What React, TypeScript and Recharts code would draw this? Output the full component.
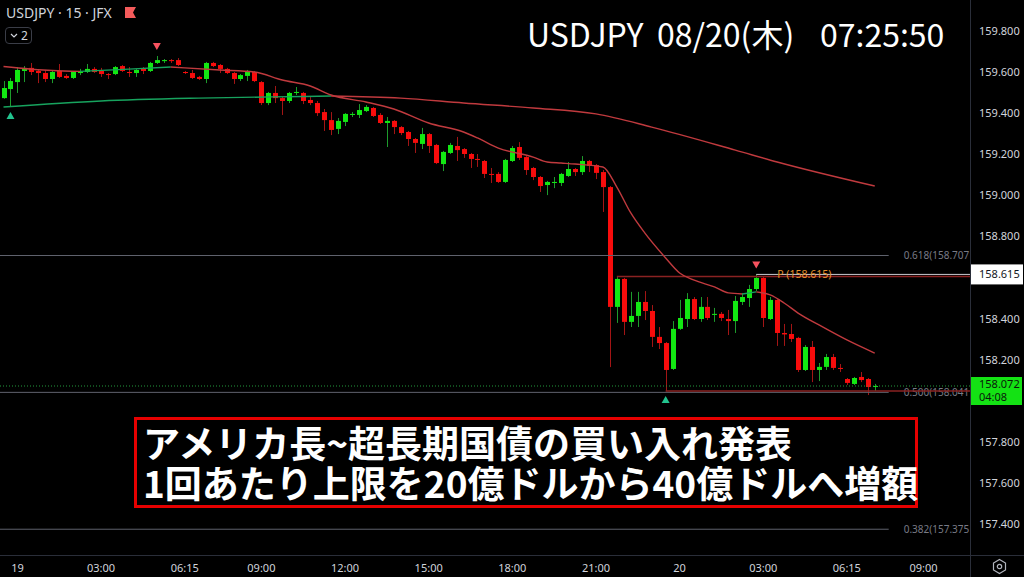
import React from 'react';
import { ComposedChart, Bar, Line, XAxis, YAxis, ReferenceLine, ReferenceDot } from 'recharts';

// 15-minute candles, USDJPY, index 0 = 18th 23:30 (06:00 bar missing: daily break)
const openP = [
  159.473, 159.517, 159.551, 159.605, 159.62, 159.605, 159.595, 159.566, 159.605, 159.581,
  159.571, 159.595, 159.6, 159.615, 159.605, 159.59, 159.59, 159.629, 159.6, 159.595,
  159.615, 159.605, 159.644, 159.653, 159.658, 159.658, 159.6, 159.595, 159.576, 159.566,
  159.644, 159.634, 159.615, 159.595, 159.566, 159.581, 159.6, 159.551, 159.449, 159.498,
  159.473, 159.459, 159.498, 159.498, 159.464, 159.449, 159.405, 159.366, 159.323, 159.357,
  159.391, 159.391, 159.41, 159.425, 159.391, 159.352, 159.362, 159.332, 159.308, 159.274,
  159.25, 159.298, 159.245, 159.152, 159.206, 159.24, 159.225, 159.201, 159.177, 159.167,
  159.104, 159.104, 159.065, 159.167, 159.235, 159.186, 159.133, 159.089, 159.05, 159.06,
  159.06, 159.094, 159.128, 159.113, 159.167, 159.147, 159.113, 159.04, 158.457, 158.593,
  158.384, 158.413, 158.481, 158.437, 158.311, 158.281, 158.155, 158.35, 158.398, 158.495,
  158.398, 158.457, 158.418, 158.423, 158.398, 158.388, 158.481, 158.5, 158.544, 158.598,
  158.398, 158.491, 158.33, 158.325, 158.306, 158.15, 158.262, 158.15, 158.165, 158.213,
  158.16, 158.106, 158.082, 158.116, 158.106, 158.067,
];
const highP = [
  159.556, 159.571, 159.624, 159.629, 159.644, 159.61, 159.61, 159.605, 159.639, 159.59,
  159.605, 159.615, 159.639, 159.624, 159.62, 159.595, 159.629, 159.634, 159.624, 159.615,
  159.624, 159.649, 159.678, 159.663, 159.663, 159.668, 159.605, 159.61, 159.581, 159.649,
  159.649, 159.639, 159.62, 159.6, 159.59, 159.61, 159.605, 159.556, 159.503, 159.532,
  159.478, 159.503, 159.527, 159.503, 159.478, 159.459, 159.42, 159.405, 159.376, 159.4,
  159.405, 159.444, 159.439, 159.43, 159.4, 159.381, 159.366, 159.337, 159.313, 159.279,
  159.328, 159.303, 159.25, 159.216, 159.255, 159.284, 159.23, 159.206, 159.201, 159.172,
  159.133, 159.113, 159.177, 159.24, 159.259, 159.191, 159.138, 159.094, 159.07, 159.089,
  159.109, 159.162, 159.133, 159.191, 159.172, 159.152, 159.123, 159.045, 158.602, 158.598,
  158.53, 158.53, 158.534, 158.466, 158.359, 158.286, 158.388, 158.491, 158.524, 158.505,
  158.505, 158.505, 158.452, 158.432, 158.442, 158.51, 158.524, 158.564, 158.615, 158.602,
  158.505, 158.495, 158.374, 158.374, 158.311, 158.271, 158.291, 158.184, 158.228, 158.228,
  158.179, 158.111, 158.116, 158.14, 158.111, 158.082,
];
const lowP = [
  159.47, 159.43, 159.498, 159.551, 159.585, 159.546, 159.551, 159.546, 159.571, 159.566,
  159.566, 159.585, 159.595, 159.595, 159.576, 159.566, 159.585, 159.6, 159.576, 159.576,
  159.59, 159.6, 159.639, 159.644, 159.644, 159.629, 159.59, 159.566, 159.561, 159.546,
  159.624, 159.595, 159.59, 159.542, 159.556, 159.556, 159.551, 159.439, 159.439, 159.449,
  159.391, 159.449, 159.488, 159.444, 159.439, 159.386, 159.313, 159.293, 159.298, 159.337,
  159.381, 159.376, 159.405, 159.381, 159.347, 159.235, 159.298, 159.293, 159.24, 159.206,
  159.225, 159.206, 159.152, 159.118, 159.201, 159.167, 159.182, 159.133, 159.138, 159.084,
  159.06, 159.06, 159.06, 159.162, 159.172, 159.099, 159.074, 159.016, 159.001, 159.035,
  159.045, 159.089, 159.094, 159.099, 159.113, 159.079, 158.919, 158.164, 158.379, 158.32,
  158.359, 158.359, 158.393, 158.262, 158.252, 158.048, 158.15, 158.345, 158.359, 158.393,
  158.384, 158.393, 158.384, 158.388, 158.32, 158.33, 158.466, 158.457, 158.534, 158.359,
  158.393, 158.267, 158.267, 158.286, 158.14, 158.145, 158.091, 158.096, 158.15, 158.15,
  158.14, 158.077, 158.077, 158.091, 158.028, 158.048,
];
const closeP = [
  159.522, 159.556, 159.61, 159.615, 159.6, 159.595, 159.566, 159.6, 159.576, 159.571,
  159.6, 159.6, 159.615, 159.6, 159.59, 159.588, 159.624, 159.605, 159.595, 159.61,
  159.605, 159.644, 159.658, 159.658, 159.653, 159.634, 159.595, 159.571, 159.566, 159.644,
  159.629, 159.615, 159.595, 159.566, 159.585, 159.605, 159.556, 159.449, 159.498, 159.473,
  159.459, 159.498, 159.503, 159.459, 159.449, 159.4, 159.366, 159.318, 159.362, 159.396,
  159.396, 159.415, 159.43, 159.386, 159.352, 159.362, 159.332, 159.303, 159.274, 159.255,
  159.298, 159.24, 159.157, 159.211, 159.245, 159.22, 159.201, 159.177, 159.172, 159.104,
  159.102, 159.065, 159.172, 159.23, 159.182, 159.123, 159.089, 159.045, 159.065, 159.065,
  159.104, 159.128, 159.113, 159.167, 159.143, 159.109, 159.04, 158.457, 158.593, 158.384,
  158.413, 158.481, 158.437, 158.311, 158.281, 158.15, 158.35, 158.403, 158.495, 158.398,
  158.457, 158.403, 158.423, 158.403, 158.388, 158.486, 158.505, 158.544, 158.598, 158.403,
  158.491, 158.33, 158.323, 158.301, 158.15, 158.262, 158.15, 158.165, 158.213, 158.16,
  158.155, 158.087, 158.111, 158.101, 158.067, 158.072,
];

// moving averages, read at sample candles
const fastIdx = [0, 7, 11, 18, 24, 26, 31, 36, 40, 44, 47, 52, 56, 61, 66, 68, 71, 76, 78, 80, 82, 86, 88, 90, 92, 95, 97, 99, 102, 104, 106, 108, 110, 112, 114, 117, 121, 125];
const fastVal = [
  159.627, 159.607, 159.603, 159.614, 159.624, 159.62, 159.61, 159.6, 159.561, 159.532,
  159.488, 159.454, 159.42, 159.352, 159.308, 159.279, 159.23, 159.186, 159.162, 159.157,
  159.152, 159.138, 159.04, 158.914, 158.817, 158.695, 158.622, 158.588, 158.554, 158.525,
  158.52, 158.53, 158.515, 158.476, 158.427, 158.369, 158.296, 158.232,
];
const slowIdx = [0, 14, 28, 43, 47, 57, 66, 76, 85, 93, 105, 111, 125];
const slowVal = [159.43, 159.459, 159.473, 159.481, 159.483, 159.473, 159.449, 159.425, 159.396, 159.332, 159.22, 159.162, 159.045];

const timeTickIdx = [2, 14, 26, 37, 49, 61, 73, 85, 97, 109, 121, 132];
const timeTickLabels = ['19', '03:00', '06:15', '09:00', '12:00', '15:00', '18:00', '21:00', '20', '03:00', '06:15', '09:00'];
const priceTicks = [157.4, 157.6, 157.8, 158.0, 158.2, 158.4, 158.6, 158.8, 159.0, 159.2, 159.4, 159.6, 159.8].filter((p) => p !== 158.0 && p !== 158.6);

const fibLevels = ['0.618', '0.500', '0.382'];
const fibPrices = [158.707, 158.041, 157.375];
const fibEndIdx = 127;

const pivotIdx = 108;
const pivotPrice = 158.615;
const rayHighIdx = 88;
const rayHighPrice = 158.605;
const rayLowIdx = 95;
const lastPrice = 158.072;
const countdown = '04:08';
const highMarks = [22, 108];
const lowMarks = [1, 95];

const X_MIN = -0.502;
const X_MAX = 138.666;
const Y_MIN = 157.2496;
const Y_MAX = 159.9504;

const BODY_UP = '#12e812';
const BODY_DN = '#f80c0c';
const WICK_UP = '#1d9b2c';
const WICK_DN = '#a31515';
const MA_UP = '#17a35e';
const MA_DN = '#c03a3e';
const AXIS_TEXT = '#d1d4dc';

type Row = { i: number; o: number; h: number; l: number; c: number; [k: string]: number };

const rows: Row[] = openP.map((o, i) => ({ i, o, h: highP[i], l: lowP[i], c: closeP[i] }));

function buildRuns(name: string, idx: number[], val: number[]) {
  const runs: { key: string; up: boolean }[] = [];
  for (let k = 0; k < idx.length - 1; k++) {
    const up = val[k + 1] > val[k];
    if (runs.length === 0 || runs[runs.length - 1].up !== up) {
      runs.push({ key: `${name}${runs.length}`, up });
      rows[idx[k]][runs[runs.length - 1].key] = val[k];
    }
    rows[idx[k + 1]][runs[runs.length - 1].key] = val[k + 1];
  }
  return runs;
}

const maRuns = [...buildRuns('slow', slowIdx, slowVal), ...buildRuns('fast', fastIdx, fastVal)];

const Candle = (props: any) => {
  const { x, y, width, height, payload } = props;
  const { o, h, l, c } = payload;
  const up = c >= o;
  const range = h - l || 1e-9;
  const py = (v: number) => y + ((h - v) / range) * height;
  const cx = Math.round(x + width / 2) + 0.5;
  const top = py(Math.max(o, c));
  const bot = py(Math.min(o, c));
  return (
    <g>
      <line x1={cx} x2={cx} y1={y} y2={y + height} stroke={up ? WICK_UP : WICK_DN} strokeWidth={1} />
      <rect x={cx - 2.5} y={top} width={5} height={Math.max(1, bot - top)} fill={up ? BODY_UP : BODY_DN} />
    </g>
  );
};

const triangle = (down: boolean, color: string) => (p: any) => {
  const { cx, cy } = p;
  const t = down ? cy - 13 : cy + 5;
  const pts = down
    ? `${cx - 4},${t} ${cx + 4},${t} ${cx},${t + 7}`
    : `${cx - 4},${t + 7} ${cx + 4},${t + 7} ${cx},${t}`;
  return <polygon points={pts} fill={color} />;
};

const fibLabel = (text: string) => (p: any) => {
  const vb = p.viewBox;
  return (
    <text x={vb.x + vb.width + 15} y={vb.y} dy="0.35em" fill="#787b86" fontSize={10} fontFamily="Noto Sans">
      {text}
    </text>
  );
};

const pivotLabel = (p: any) => {
  const vb = p.viewBox;
  return (
    <g>
      <text x={vb.x + 21} y={vb.y} dy="0.35em" fill="#e8912d" fontSize={10.5} fontFamily="Noto Sans">
        {`P (${pivotPrice.toFixed(3)})`}
      </text>
      <rect x={vb.x + vb.width + 1} y={vb.y - 10} width={52} height={20} fill="#ffffff" />
      <text x={vb.x + vb.width + 9} y={vb.y} dy="0.35em" fill="#131722" fontSize={11} fontFamily="Noto Sans">
        {pivotPrice.toFixed(3)}
      </text>
    </g>
  );
};

const lastLabel = (p: any) => {
  const vb = p.viewBox;
  const x = vb.x + vb.width + 1;
  return (
    <g>
      <rect x={x} y={vb.y - 9} width={51} height={28} fill="#14e214" />
      <text x={x + 8} y={vb.y - 2} dy="0.35em" fill="#0b1a0b" fontSize={11} fontFamily="Noto Sans">
        {lastPrice.toFixed(3)}
      </text>
      <text x={x + 8} y={vb.y + 11} dy="0.35em" fill="#0b1a0b" fontSize={11} fontFamily="Noto Sans">
        {countdown}
      </text>
    </g>
  );
};

const tickStyle = { fill: AXIS_TEXT, fontSize: 11, fontFamily: 'Noto Sans' };

export default function App() {
  return (
    <div style={{ position: 'absolute', left: 0, top: 0, width: 1024, height: 577, background: '#000', overflow: 'hidden' }}>
      <ComposedChart width={1024} height={577} data={rows} margin={{ top: 0, right: 0, bottom: 0, left: 0 }}>
        <XAxis
          dataKey="i"
          type="number"
          domain={[X_MIN, X_MAX]}
          allowDataOverflow
          ticks={timeTickIdx}
          interval={0}
          tickFormatter={(v: number) => timeTickLabels[timeTickIdx.indexOf(v)] ?? ''}
          axisLine={false}
          tickLine={false}
          tickSize={0}
          tickMargin={9}
          height={22}
          tick={tickStyle}
        />
        <YAxis
          orientation="right"
          type="number"
          domain={[Y_MIN, Y_MAX]}
          allowDataOverflow
          ticks={priceTicks}
          interval={0}
          tickFormatter={(v: number) => v.toFixed(3)}
          axisLine={false}
          tickLine={false}
          tickSize={0}
          tickMargin={9}
          width={54}
          tick={tickStyle}
        />
        {fibPrices.map((p, k) => (
          <ReferenceLine
            key={`fib${k}`}
            segment={[{ x: X_MIN, y: p }, { x: fibEndIdx, y: p }]}
            stroke="#5f626d"
            strokeWidth={1}
            ifOverflow="visible"
            label={fibLabel(`${fibLevels[k]}(${p.toFixed(3)}`)}
          />
        ))}
        <ReferenceLine
          segment={[{ x: rayHighIdx, y: rayHighPrice }, { x: X_MAX, y: rayHighPrice }]}
          stroke="#8a2222"
          strokeWidth={1.5}
          ifOverflow="visible"
        />
        <ReferenceLine
          segment={[{ x: rayLowIdx, y: lowP[rayLowIdx] }, { x: X_MAX, y: lowP[rayLowIdx] }]}
          stroke="#8a2222"
          strokeWidth={1.5}
          ifOverflow="visible"
        />
        <ReferenceLine
          segment={[{ x: pivotIdx, y: pivotPrice }, { x: X_MAX, y: pivotPrice }]}
          stroke="#c9cbd1"
          strokeWidth={1}
          ifOverflow="visible"
          label={pivotLabel}
        />
        <ReferenceLine
          y={lastPrice}
          stroke="#239a3c"
          strokeDasharray="1 2"
          strokeWidth={1}
          ifOverflow="visible"
          label={lastLabel}
        />
        {maRuns.map((r) => (
          <Line
            key={r.key}
            dataKey={r.key}
            type="monotone"
            stroke={r.up ? MA_UP : MA_DN}
            strokeWidth={1.4}
            dot={false}
            activeDot={false}
            connectNulls
            isAnimationActive={false}
          />
        ))}
        <Bar dataKey={(d: Row) => [d.l, d.h]} barSize={5} shape={Candle} isAnimationActive={false} />
        {highMarks.map((i) => (
          <ReferenceDot key={`hm${i}`} x={i} y={highP[i]} r={0} ifOverflow="visible" shape={triangle(true, '#f7525f')} />
        ))}
        {lowMarks.map((i) => (
          <ReferenceDot key={`lm${i}`} x={i} y={lowP[i]} r={0} ifOverflow="visible" shape={triangle(false, '#22c38e')} />
        ))}
      </ComposedChart>

      {/* frame lines */}
      <div style={{ position: 'absolute', left: 970, top: 0, width: 1, height: 577, background: '#2a2e39' }} />
      <div style={{ position: 'absolute', left: 0, top: 555, width: 1024, height: 1, background: '#2a2e39' }} />

      {/* symbol header */}
      <div style={{ position: 'absolute', left: 6, top: 4, color: AXIS_TEXT, fontFamily: 'Noto Sans', fontSize: 14, lineHeight: '18px', whiteSpace: 'pre' }}>
        USDJPY · 15 · JFX
      </div>
      <svg style={{ position: 'absolute', left: 125, top: 7 }} width={12} height={12}>
        <polygon points="0,0 11,0 8,5.5 11,11 0,11" fill="#f45b5b" />
      </svg>
      <div style={{ position: 'absolute', left: 5, top: 27, width: 27, height: 17, border: '1px solid #3a3d47', borderRadius: 4, boxSizing: 'border-box' }}>
        <svg style={{ position: 'absolute', left: 4, top: 5 }} width={8} height={6}>
          <polyline points="1,1 4,4 7,1" fill="none" stroke={AXIS_TEXT} strokeWidth={1.2} />
        </svg>
        <span style={{ position: 'absolute', left: 15, top: -1, color: AXIS_TEXT, fontFamily: 'Noto Sans', fontSize: 12 }}>2</span>
      </div>

      {/* title */}
      {[
        ['USDJPY', 527],
        ['08/20(木)', 657],
        ['07:25:50', 820],
      ].map(([t, x]) => (
        <div key={t as string} style={{ position: 'absolute', left: x as number, top: 17, color: '#fff', fontFamily: 'Noto Sans CJK JP', fontSize: 32, lineHeight: '32px', whiteSpace: 'pre' }}>
          {t}
        </div>
      ))}

      {/* caption */}
      <div
        style={{
          position: 'absolute',
          left: 134,
          top: 417,
          width: 784,
          height: 91,
          border: '3px solid #e60000',
          boxSizing: 'border-box',
          background: '#000',
          color: '#fff',
          fontFamily: 'Noto Sans CJK JP',
          fontWeight: 700,
          fontSize: 37,
          lineHeight: '40px',
          padding: '2px 0 0 6px',
          whiteSpace: 'pre',
        }}
      >
        {'アメリカ長~超長期国債の買い入れ発表\n1回あたり上限を20億ドルから40億ドルへ増額'}
      </div>

      {/* settings icon */}
      <svg style={{ position: 'absolute', left: 991, top: 558 }} width={17} height={17}>
        <polygon points="8.5,1.5 14.5,5 14.5,12 8.5,15.5 2.5,12 2.5,5" fill="none" stroke="#b2b5be" strokeWidth={1.2} />
        <circle cx={8.5} cy={8.5} r={2.2} fill="none" stroke="#b2b5be" strokeWidth={1.2} />
      </svg>
    </div>
  );
}
